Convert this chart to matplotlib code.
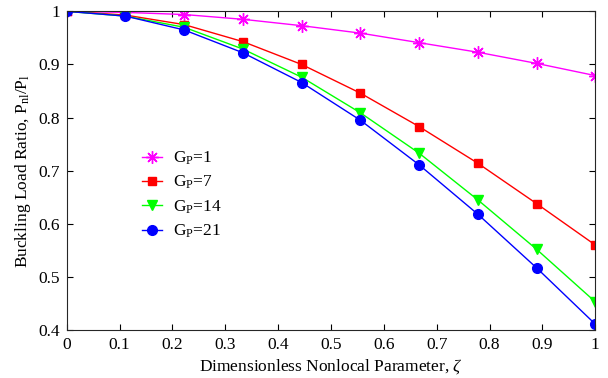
import numpy as np
import matplotlib.pyplot as plt

plt.rcParams['font.family'] = ['Liberation Serif', 'DejaVu Serif']
plt.rcParams['mathtext.fontset'] = 'custom'
plt.rcParams['mathtext.rm'] = 'Liberation Serif'
plt.rcParams['mathtext.it'] = 'Liberation Serif:italic'

zeta = [0, 1/9, 2/9, 3/9, 4/9, 5/9, 6/9, 7/9, 8/9, 1]
gp1 = [1.0, 0.998, 0.994, 0.985, 0.973, 0.959, 0.941, 0.923, 0.902, 0.879]
gp7 = [1.0, 0.993, 0.975, 0.943, 0.900, 0.846, 0.783, 0.714, 0.638, 0.560]
gp14 = [1.0, 0.991, 0.970, 0.929, 0.876, 0.809, 0.733, 0.645, 0.552, 0.453]
gp21 = [1.0, 0.991, 0.965, 0.922, 0.866, 0.795, 0.711, 0.618, 0.517, 0.411]

fig = plt.figure(figsize=(6.08, 3.78), dpi=100)
ax = fig.add_axes([0.1097, 0.127, 0.8694, 0.843])

ax.plot(zeta, gp1, color='#ff00ff', marker=(8, 2, 0), markersize=9, mew=1, lw=1, label='G$_\\mathrm{P}$=1')
ax.plot(zeta, gp7, color='#ff0000', marker='s', markersize=6, lw=1, label='G$_\\mathrm{P}$=7')
ax.plot(zeta, gp14, color='#00ff00', marker='v', markersize=7.5, lw=1, label='G$_\\mathrm{P}$=14')
ax.plot(zeta, gp21, color='#0000ff', marker='o', markersize=7, lw=1, label='G$_\\mathrm{P}$=21')

ax.set_xlim(0, 1)
ax.set_ylim(0.4, 1)
ax.set_xticks(np.arange(0, 1.01, 0.1))
ax.set_xticklabels(['0', '0.1', '0.2', '0.3', '0.4', '0.5', '0.6', '0.7', '0.8', '0.9', '1'])
ax.set_yticks(np.arange(0.4, 1.01, 0.1))
ax.set_yticklabels(['0.4', '0.5', '0.6', '0.7', '0.8', '0.9', '1'])
ax.tick_params(direction='in', top=True, right=True, labelsize=12.5, length=4, pad=5)
for s in ax.spines.values():
    s.set_color('#262626')

ax.set_xlabel('Dimensionless Nonlocal Parameter, $\\mathit{\\zeta}$', fontsize=12.5, labelpad=3)
ax.set_ylabel('Buckling Load Ratio, P$_\\mathrm{nl}$/P$_\\mathrm{l}$', fontsize=12.5, labelpad=4)

ax.legend(loc='upper left', bbox_to_anchor=(0.112, 0.615), frameon=False, fontsize=12.5,
          handlelength=1.2, labelspacing=0.4, handletextpad=0.6)

fig.savefig('out.png', dpi=100)
